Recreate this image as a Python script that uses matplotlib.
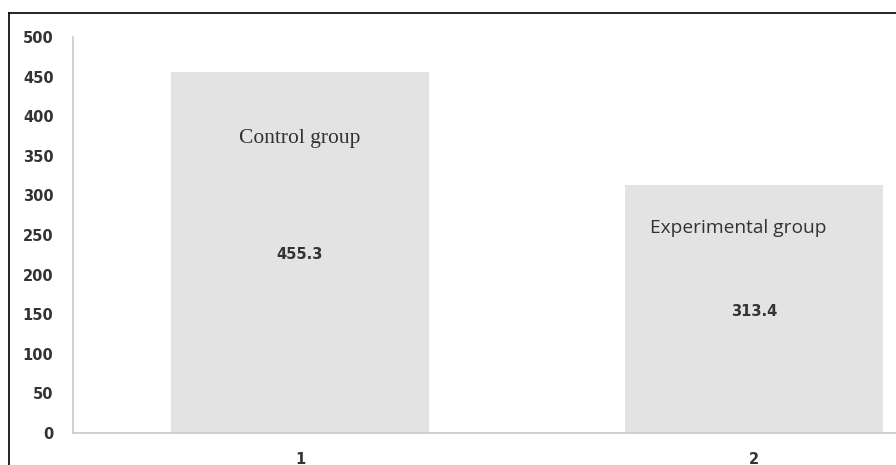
import matplotlib.pyplot as plt
from matplotlib.lines import Line2D

categories = ['1', '2']
values = [455.3, 313.4]
group_names = ['Control group', 'Experimental group']
value_labels = ['455.3', '313.4']
yticks = list(range(0, 501, 50))

fig = plt.figure(figsize=(8.96, 4.65), dpi=100)
ax = fig.add_axes([73 / 896, 32 / 465, 908 / 896, 396 / 465])

xs = range(len(categories))
ax.bar(xs, values, width=0.57, color='#e3e3e3', zorder=2)

ax.set_xlim(-0.5, 1.5)
ax.set_ylim(0, 500)
ax.set_yticks(yticks)
ax.set_xticks(list(xs))
ax.set_xticklabels(categories)

for s in ['top', 'right']:
    ax.spines[s].set_visible(False)
for s in ['left', 'bottom']:
    ax.spines[s].set_color('#c8c8c8')
    ax.spines[s].set_linewidth(1.2)
ax.tick_params(length=0, labelsize=10.5, labelcolor='#333333', pad=14)
ax.tick_params(axis='x', pad=14)
for lab in ax.get_yticklabels() + ax.get_xticklabels():
    lab.set_fontweight('bold')
    lab.set_family('DejaVu Sans')

# text in the bars
ax.text(0, 372, group_names[0], ha='center', va='center', fontsize=15.5,
        family='Liberation Serif', color='#333333')
ax.text(0, 225, value_labels[0], ha='center', va='center', fontsize=10.5,
        fontweight='bold', color='#333333')
ax.text(0.965, 259, group_names[1], ha='center', va='center', fontsize=13.8,
        family='Open Sans', color='#333333')
ax.text(1, 153, value_labels[1], ha='center', va='center', fontsize=10.5,
        fontweight='bold', color='#333333')

# frame around picture
fig.add_artist(Line2D([9 / 896, 9 / 896], [0, 1 - 13 / 465], color='black', lw=1.2))
fig.add_artist(Line2D([9 / 896, 1], [1 - 13 / 465, 1 - 13 / 465], color='black', lw=1.2))

plt.savefig('out.png', dpi=100)
